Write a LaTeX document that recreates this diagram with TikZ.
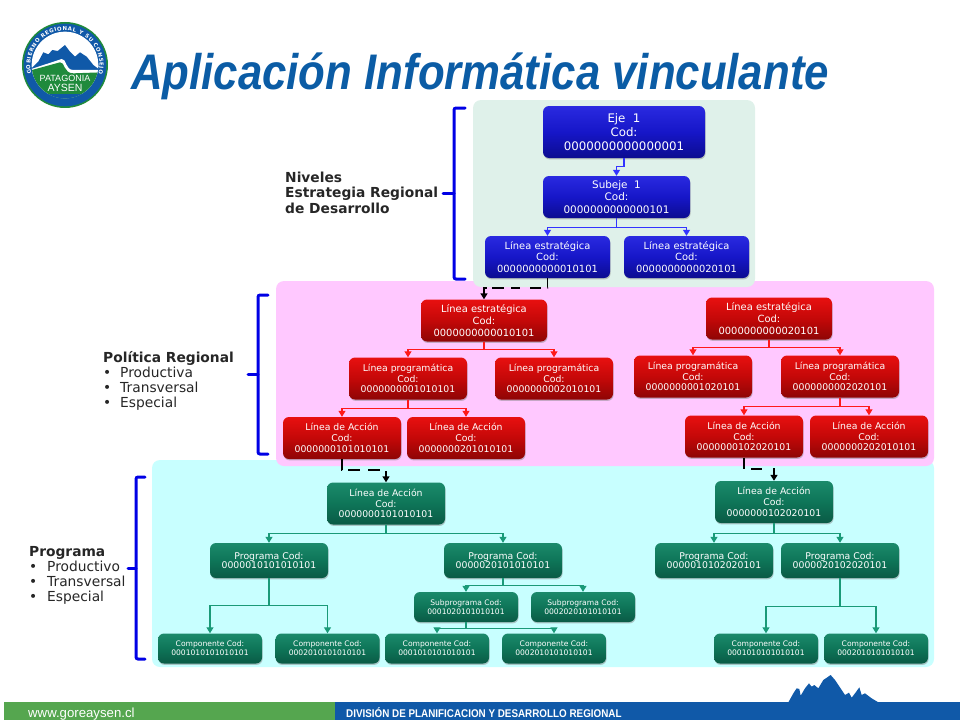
\documentclass[tikz,border=0pt]{standalone}
\usepackage{fontspec}
\setmainfont{DejaVu Sans}
\newfontfamily\titlefont{Liberation Sans}
\usetikzlibrary{arrows.meta,shadows,decorations.text}

\definecolor{titleblue}{HTML}{0B5CA5}
\definecolor{panelgreen}{HTML}{DFF1EA}
\definecolor{panelpink}{HTML}{FFC8FF}
\definecolor{panelcyan}{HTML}{C8FFFF}
\definecolor{footgreen}{HTML}{55A64F}
\definecolor{footblue}{HTML}{1059A8}
\definecolor{logogreen}{HTML}{1F8A3C}
\definecolor{bluetop}{HTML}{2A2AE0}
\definecolor{bluemid}{HTML}{1616C8}
\definecolor{bluelow}{HTML}{0C0C90}
\definecolor{redtop}{HTML}{E81010}
\definecolor{redmid}{HTML}{C40808}
\definecolor{redlow}{HTML}{8E0505}
\definecolor{greentop}{HTML}{1B8A6B}
\definecolor{greenmid}{HTML}{0E7558}
\definecolor{greenlow}{HTML}{0A5A45}
\definecolor{greenline}{HTML}{1A9A78}

\begin{document}
\begin{tikzpicture}[x=1pt, y=-1pt,
    box/.style={rounded corners=6pt, inner sep=0pt, align=center, text=white,
        drop shadow={opacity=.45, shadow xshift=.6pt, shadow yshift=-1.4pt}},
    bluebox/.style={box, top color=bluetop, bottom color=bluelow, middle color=bluemid},
    redbox/.style={box, top color=redtop, bottom color=redlow, middle color=redmid},
    greenbox/.style={box, top color=greentop, bottom color=greenlow, middle color=greenmid},
    big/.style={minimum width=118pt, minimum height=42pt, font=\fontsize{9.3}{10.7}\selectfont},
    wide/.style={minimum width=125pt, minimum height=42pt, font=\fontsize{9.9}{11.8}\selectfont},
    mid/.style={minimum width=118pt, minimum height=35pt, font=\fontsize{9.3}{9.8}\selectfont},
    small/.style={minimum width=104pt, minimum height=30pt, font=\fontsize{7.6}{8.8}\selectfont},
    link/.style={line width=1.1pt, -{Triangle[width=7pt,length=6pt]}},
    bluelink/.style={link, draw=blue!80!white},
    redlink/.style={link, draw=red!90!white},
    greenlink/.style={link, draw=greenline},
    jump/.style={line width=1.8pt, black, -{Triangle[width=7pt,length=6pt]}},
    bracket/.style={line width=3pt, blue!90!black, line cap=round, rounded corners=2pt},
    sidetext/.style={anchor=north west, inner sep=0pt, align=left, text=black!85,
        font=\fontsize{13.8}{15.2}\selectfont}]
    \useasboundingbox (0,0) rectangle (960,720);

    % --- Background panels ---
    \fill[panelcyan] [rounded corners=8pt] (152,460) rectangle (934,667);
    \fill[panelpink] [rounded corners=8pt] (276,281) rectangle (934,466);
    \fill[panelgreen] [rounded corners=8pt] (473,100) rectangle (755,287);

    % --- Title ---
    \node[anchor=base west, inner sep=0pt, text=titleblue, xscale=.875, font=\titlefont\fontsize{50}{50}\selectfont\bfseries\itshape] (title) at (131,89) {Aplicación Informática vinculante};

    % --- Logo ---
    \begin{scope}[shift={(15,15)}, x=0.3333pt, y=-0.3333pt]
        \fill[logogreen] (150,150) circle (129);
        \fill[footblue] (150,150) circle (124);
        \fill[white] (150,150) circle (100);
        \begin{scope}
            \clip (150,150) circle (100);
            \fill[footblue] (45,165) -- (70,140) -- (85,112) -- (100,118) -- (112,105) -- (128,108) -- (150,90) -- (165,110) -- (180,125) -- (195,112) -- (215,125) -- (235,150) -- (255,165) -- (255,175) -- (45,175) -- cycle;
            \fill[white] (40,165) -- (140,132) .. controls (155,130) and (150,165) .. (175,165) -- (260,165) -- (260,175) -- (40,185) -- cycle;
            \fill[logogreen] (40,168) -- (135,142) .. controls (150,140) and (145,175) .. (175,175) -- (260,172) -- (260,260) -- (40,260) -- cycle;
            \fill[footblue] (40,238) -- (260,238) -- (260,260) -- (40,260) -- cycle;
        \end{scope}
        \path[decorate, decoration={text along path, text align=fit to path, text color=white,
            text={|\fontsize{5.4}{6}\selectfont\bfseries|GOBIERNO REGIONAL Y SU CONSEJO}}]
            (150,150) ++(165:104) arc (165:375:104);
        \node[text=white, inner sep=0pt, font=\titlefont\fontsize{9}{10}\selectfont, align=center] (logoname) at (150,205) {PATAGONIA\\{\fontsize{10.5}{10}\selectfont AYSEN}};
    \end{scope}

    % --- Side brackets ---
    \draw[bracket] (465,108) -- (454,108) -- (454,279) -- (465,279);
    \draw[bracket] (443,193) -- (454,193);
    \draw[bracket] (268,295) -- (258,295) -- (258,454) -- (268,454);
    \draw[bracket] (248,374) -- (258,374);
    \draw[bracket] (145,477) -- (136,477) -- (136,659) -- (145,659);
    \draw[bracket] (128,568) -- (136,568);

    % --- Side labels ---
    \node[sidetext] (niveles) at (285,172) {\textbf{Niveles}\\\textbf{Estrategia Regional}\\\textbf{de Desarrollo}};
    \node[sidetext] (politica) at (103,351) {\textbf{Política Regional}\\\makebox[17pt][l]{•}Productiva\\\makebox[17pt][l]{•}Transversal\\\makebox[17pt][l]{•}Especial};
    \node[sidetext] (programa) at (29,546) {\textbf{Programa}\\\makebox[18pt][l]{•}Productivo\\\makebox[18pt][l]{•}Transversal\\\makebox[18pt][l]{•}Especial};

    % --- Blue nodes ---
    \node[bluebox, minimum width=162pt, minimum height=52pt, font=\fontsize{11.8}{14.4}\selectfont] (eje) at (624,132) {Eje~~1\\Cod:\\0000000000000001};
    \node[bluebox, minimum width=147pt, minimum height=42pt, font=\fontsize{10.4}{12.6}\selectfont] (subeje) at (616.5,197) {Subeje~~1\\Cod:\\0000000000000101};
    \node[bluebox, wide] (bl1) at (547.5,257) {Línea estratégica\\Cod:\\0000000000010101};
    \node[bluebox, wide] (bl2) at (686.5,257) {Línea estratégica\\Cod:\\0000000000020101};

    % --- Red nodes ---
    \node[redbox, wide, minimum width=126pt] (rl1) at (484,320.5) {Línea estratégica\\Cod:\\0000000000010101};
    \node[redbox, wide, minimum width=126pt] (rl2) at (769,318.5) {Línea estratégica\\Cod:\\0000000000020101};
    \node[redbox, big] (rp1) at (408,378.5) {Línea programática\\Cod:\\0000000001010101};
    \node[redbox, big] (rp2) at (554,378.5) {Línea programática\\Cod:\\0000000002010101};
    \node[redbox, big] (rp3) at (693,376.5) {Línea programática\\Cod:\\0000000001020101};
    \node[redbox, big] (rp4) at (840,376.5) {Línea programática\\Cod:\\0000000002020101};
    \node[redbox, big] (ra1) at (342,438) {Línea de Acción\\Cod:\\0000000101010101};
    \node[redbox, big] (ra2) at (466,438) {Línea de Acción\\Cod:\\0000000201010101};
    \node[redbox, big] (ra3) at (744,436.5) {Línea de Acción\\Cod:\\0000000102020101};
    \node[redbox, big] (ra4) at (869,436.5) {Línea de Acción\\Cod:\\0000000202010101};

    % --- Green nodes ---
    \node[greenbox, big] (ga1) at (386,503.5) {Línea de Acción\\Cod:\\0000000101010101};
    \node[greenbox, big] (ga2) at (774,502) {Línea de Acción\\Cod:\\0000000102020101};
    \node[greenbox, mid] (gp1) at (269,560.5) {Programa Cod:\\0000010101010101};
    \node[greenbox, mid] (gp2) at (503,560.5) {Programa Cod:\\0000020101010101};
    \node[greenbox, mid] (gp3) at (714,560.5) {Programa Cod:\\0000010102020101};
    \node[greenbox, mid] (gp4) at (840,560.5) {Programa Cod:\\0000020102020101};
    \node[greenbox, small] (gs1) at (466,607) {Subprograma Cod:\\0001020101010101};
    \node[greenbox, small] (gs2) at (583,607) {Subprograma Cod:\\0002020101010101};
    \node[greenbox, small] (gc1) at (210,648.5) {Componente Cod:\\0001010101010101};
    \node[greenbox, small] (gc2) at (327.5,648.5) {Componente Cod:\\0002010101010101};
    \node[greenbox, small] (gc3) at (437,648.5) {Componente Cod:\\0001010101010101};
    \node[greenbox, small] (gc4) at (554,648.5) {Componente Cod:\\0002010101010101};
    \node[greenbox, small] (gc5) at (766,648.5) {Componente Cod:\\0001010101010101};
    \node[greenbox, small] (gc6) at (876,648.5) {Componente Cod:\\0002010101010101};

    % --- Connectors ---
    \draw[bluelink] (eje.south) -- ++(0,8) -| (subeje.north);
    \foreach \a/\b in {subeje/bl1, subeje/bl2}
        \draw[bluelink] (\a.south) -- ++(0,9) -| (\b.north);
    \foreach \a/\b/\h in {rl1/rp1/8, rl1/rp2/8, rl2/rp3/8, rl2/rp4/8, rp1/ra1/9, rp1/ra2/9, rp4/ra3/9, rp4/ra4/9}
        \draw[redlink] (\a.south) -- ++(0,\h) -| (\b.north);
    \foreach \a/\b/\h in {ga1/gp1/9, ga1/gp2/9, ga2/gp3/10, ga2/gp4/10, gp1/gc1/27, gp1/gc2/27, gp2/gs1/7, gp2/gs2/7, gs1/gc3/6, gs1/gc4/6, gp4/gc5/28, gp4/gc6/28}
        \draw[greenlink] (\a.south) -- ++(0,\h) -| (\b.north);

    % --- Dashed jumps between levels ---
    \draw[jump, dash pattern=on 10pt off 7pt on 11pt off 10pt on 9pt off 7pt on 12pt off 5pt] (bl1.south) -- ++(0,10) -| (rl1.north);
    \draw[jump, dash pattern=on 11pt off 6pt on 12pt off 8pt on 12pt off 7pt on 30pt] (ra1.south) -- ++(0,11) -| (ga1.north);
    \draw[jump, dash pattern=on 11pt off 7pt on 11pt off 11pt on 30pt] (ra3.south) -- ++(0,11) -| (ga2.north);

    % --- Footer ---
    \fill[footgreen] (4,702) rectangle (335,720);
    \fill[footblue] (335,702) rectangle (960,720);
    \begin{scope}[shift={(780,665)}, x=0.3333pt, y=-0.3333pt]
        \fill[footblue] (0,112) -- (25,112) -- (40,85) -- (50,70) -- (58,72) -- (62,92) -- (75,70) -- (87,55) -- (95,65) -- (103,60) -- (115,70) -- (130,45) -- (152,30) -- (165,45) -- (185,75) -- (195,90) -- (207,83) -- (215,98) -- (225,85) -- (238,67) -- (245,90) -- (255,85) -- (275,100) -- (295,112) -- (295,125) -- (0,125) -- cycle;
    \end{scope}
    \node[anchor=base west, inner sep=0pt, text=white, font=\titlefont\fontsize{13.2}{13}\selectfont] (web) at (28,717) {www.goreaysen.cl};
    \node[anchor=base west, inner sep=0pt, text=white, xscale=.88, font=\titlefont\fontsize{11.2}{11}\selectfont\bfseries] (division) at (346,717) {DIVISIÓN DE PLANIFICACION Y DESARROLLO REGIONAL};
\end{tikzpicture}
\end{document}
